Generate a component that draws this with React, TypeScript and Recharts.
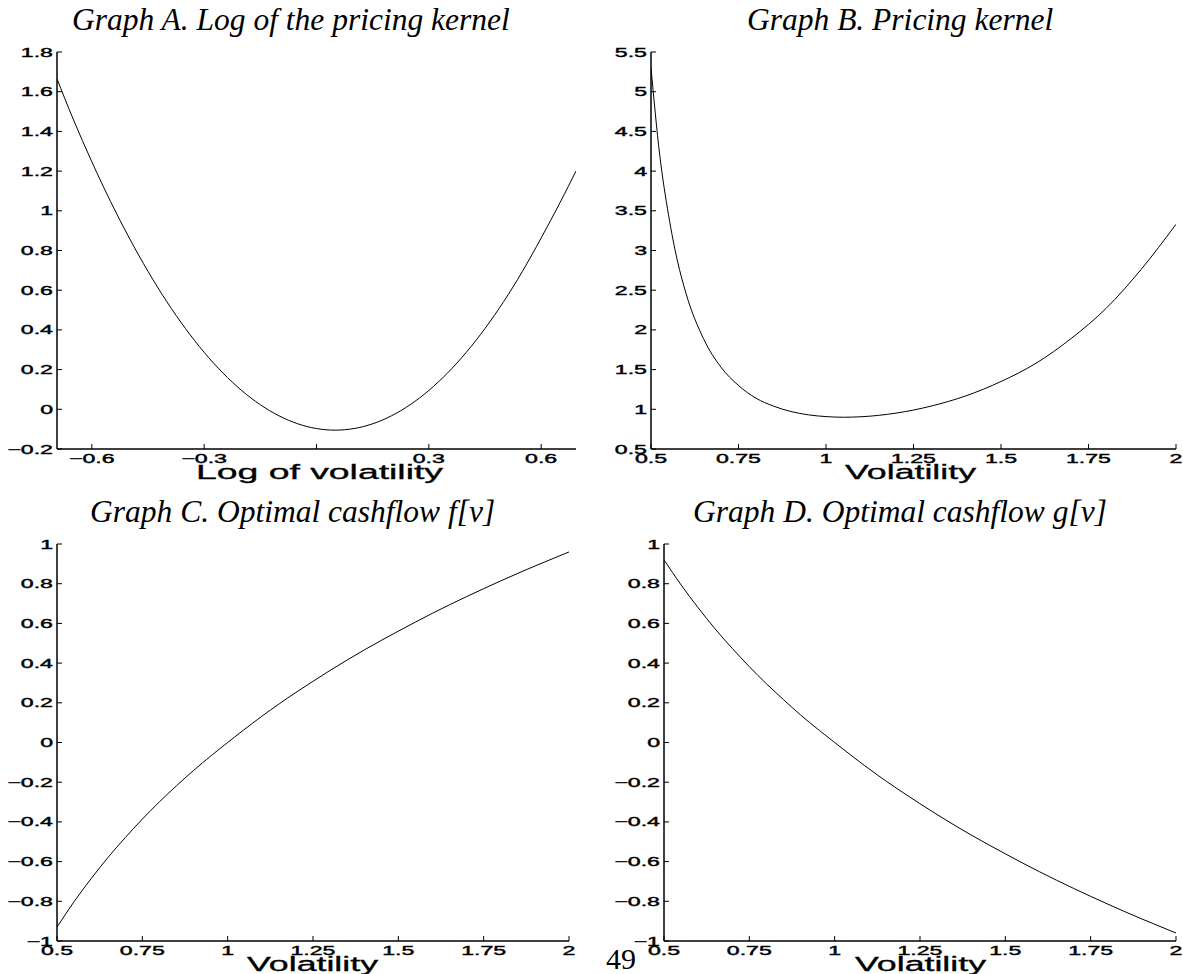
import { LineChart, Line, XAxis, YAxis } from 'recharts'

// Graph A: log of the pricing kernel against log of volatility
const logVolatility = [-0.693, -0.65, -0.6, -0.55, -0.5, -0.45, -0.4, -0.35, -0.3, -0.25, -0.2, -0.15, -0.1, -0.05, 0, 0.05, 0.1, 0.15, 0.2, 0.25, 0.3, 0.35, 0.4, 0.45, 0.5, 0.55, 0.6, 0.65, 0.693]
const logKernel = [1.665, 1.463, 1.247, 1.047, 0.863, 0.695, 0.543, 0.407, 0.287, 0.183, 0.095, 0.023, -0.033, -0.073, -0.097, -0.105, -0.097, -0.073, -0.033, 0.023, 0.095, 0.183, 0.287, 0.407, 0.543, 0.695, 0.863, 1.04, 1.2]

// Graph B: pricing kernel against volatility
const volatilityB = [0.5, 0.525, 0.55, 0.575, 0.6, 0.65, 0.7, 0.75, 0.8, 0.85, 0.9, 0.95, 1, 1.05, 1.1, 1.2, 1.3, 1.4, 1.5, 1.6, 1.7, 1.8, 1.9, 2]
const pricingKernel = [5.3, 4.2, 3.45, 2.88, 2.46, 1.89, 1.53, 1.3, 1.14, 1.04, 0.972, 0.93, 0.908, 0.9, 0.906, 0.952, 1.04, 1.17, 1.35, 1.58, 1.89, 2.27, 2.76, 3.33]

// Graphs C and D: optimal cashflows
const volatilityCD = [0.5, 0.55, 0.6, 0.65, 0.7, 0.75, 0.8, 0.85, 0.9, 0.95, 1, 1.1, 1.2, 1.3, 1.4, 1.5, 1.6, 1.7, 1.8, 1.9, 2]
const cashflowF = [-0.93, -0.802, -0.686, -0.578, -0.479, -0.386, -0.299, -0.218, -0.141, -0.069, 0, 0.132, 0.252, 0.363, 0.466, 0.561, 0.651, 0.735, 0.814, 0.889, 0.96]
const cashflowG = [0.92, 0.794, 0.679, 0.572, 0.474, 0.382, 0.296, 0.216, 0.139, 0.068, 0, -0.132, -0.252, -0.363, -0.466, -0.561, -0.651, -0.735, -0.814, -0.889, -0.96]

// tick values
const ticksLogVol = [-0.6, -0.3, 0, 0.3, 0.6]
const ticksLogKernel = [-0.2, 0, 0.2, 0.4, 0.6, 0.8, 1, 1.2, 1.4, 1.6, 1.8]
const ticksVol = [0.5, 0.75, 1, 1.25, 1.5, 1.75, 2]
const ticksKernel = [0.5, 1, 1.5, 2, 2.5, 3, 3.5, 4, 4.5, 5, 5.5]
const ticksCashflow = [-1, -0.8, -0.6, -0.4, -0.2, 0, 0.2, 0.4, 0.6, 0.8, 1]

const SANS = '"Liberation Sans", Arial, Helvetica, sans-serif'
const SERIF = '"Liberation Serif", "Times New Roman", serif'
const TICK = 5
const FS = 12.5
const STRETCH = 1.85

const ADV: Record<string, number> = { '.': 0.278, '\u2212': 0.584 }
const fmt = (v: number) => String(v).replace('-', '\u2212')
const textWidth = (s: string) => {
  let w = 0
  for (const c of s) w += ADV[c] ?? 0.556
  return w * FS * STRETCH
}

const zip = (xs: number[], ys: number[]) => xs.map((x, i) => ({ x, y: ys[i] }))

// stretched Helvetica-like labels, slightly emboldened
const tickText = { fontFamily: SANS, fontSize: FS, fill: '#000', stroke: '#000', strokeWidth: 0.4 }

const makeBottomTick = (skip: number[]) => (p: any) => {
  const s = fmt(p.payload.value)
  return (
    <g>
      <line x1={p.x} x2={p.x} y1={p.y} y2={p.y - TICK} stroke="#000" />
      {!skip.includes(p.payload.value) && (
        <text x={p.x} y={p.y + 14} textAnchor="middle" {...tickText}
          textLength={textWidth(s)} lengthAdjust="spacingAndGlyphs">{s}</text>
      )}
    </g>
  )
}

const leftTick = (p: any) => {
  const s = fmt(p.payload.value)
  return (
    <g>
      <line x1={p.x} x2={p.x + TICK} y1={p.y} y2={p.y} stroke="#000" />
      <text x={p.x - 4} y={p.y + 4.5} textAnchor="end" {...tickText}
        textLength={textWidth(s)} lengthAdjust="spacingAndGlyphs">{s}</text>
    </g>
  )
}

const topTick = (p: any) => <line x1={p.x} x2={p.x} y1={p.y} y2={p.y + TICK} stroke="#000" />
const rightTick = (p: any) => <line x1={p.x} x2={p.x - TICK} y1={p.y} y2={p.y} stroke="#000" />

const frame = { stroke: '#000', strokeWidth: 1.5 }

interface PanelProps {
  plot: [number, number, number, number]
  data: { x: number; y: number }[]
  xDomain: [number, number]
  yDomain: [number, number]
  xTicks: number[]
  yTicks: number[]
  curve: 'natural' | 'monotone'
  skipX?: number[]
}

function Panel({ plot, data, xDomain, yDomain, xTicks, yTicks, curve, skipX = [] }: PanelProps) {
  const [L, T, R, B] = plot
  const ML = 60, MT = 10, MR = 10, MB = 30
  return (
    <div style={{ position: 'absolute', left: L - ML, top: T - MT }}>
      <LineChart width={R - L + ML + MR} height={B - T + MT + MB} data={data}
        margin={{ top: MT, right: MR, bottom: 0, left: 0 }}>
        <XAxis dataKey="x" type="number" domain={xDomain} ticks={xTicks} allowDataOverflow interval={0}
          height={MB} tickSize={0} tickMargin={0} tickLine={false} axisLine={frame} tick={makeBottomTick(skipX)} />
        <XAxis xAxisId="top" orientation="top" dataKey="x" type="number" domain={xDomain} ticks={xTicks}
          allowDataOverflow interval={0} height={0} tickSize={0} tickMargin={0} tickLine={false} axisLine={frame} tick={topTick} />
        <YAxis type="number" domain={yDomain} ticks={yTicks} allowDataOverflow interval={0}
          width={ML} tickSize={0} tickMargin={0} tickLine={false} axisLine={frame} tick={leftTick} />
        <YAxis yAxisId="right" orientation="right" type="number" domain={yDomain} ticks={yTicks}
          allowDataOverflow interval={0} width={0} tickSize={0} tickMargin={0} tickLine={false} axisLine={frame} tick={rightTick} />
        <Line dataKey="y" type={curve} stroke="#000" strokeWidth={1} dot={false} isAnimationActive={false} />
        <Line xAxisId="top" yAxisId="right" dataKey="y" stroke="none" dot={false} isAnimationActive={false} />
      </LineChart>
    </div>
  )
}

const titleStyle = { fontFamily: SERIF, fontStyle: 'italic', fontSize: 31.5, fill: '#000' }
const axisTitle = { fontFamily: SANS, fontSize: 19.5, fill: '#000', stroke: '#000', strokeWidth: 0.3 }

export default function App() {
  return (
    <div style={{ position: 'absolute', left: 0, top: 0, width: 1183, height: 974, background: '#fff' }}>
      <Panel plot={[57, 52, 576, 449]} data={zip(logVolatility, logKernel)} xDomain={[-0.693, 0.693]}
        yDomain={[-0.2, 1.8]} xTicks={ticksLogVol} yTicks={ticksLogKernel} curve="natural" skipX={[0]} />
      <Panel plot={[651, 52, 1176, 449]} data={zip(volatilityB, pricingKernel)} xDomain={[0.5, 2]}
        yDomain={[0.5, 5.5]} xTicks={ticksVol} yTicks={ticksKernel} curve="monotone" />
      <Panel plot={[57, 544, 569, 941]} data={zip(volatilityCD, cashflowF)} xDomain={[0.5, 2]}
        yDomain={[-1, 1]} xTicks={ticksVol} yTicks={ticksCashflow} curve="natural" />
      <Panel plot={[664, 544, 1176, 941]} data={zip(volatilityCD, cashflowG)} xDomain={[0.5, 2]}
        yDomain={[-1, 1]} xTicks={ticksVol} yTicks={ticksCashflow} curve="natural" />

      <svg width={1183} height={974} style={{ position: 'absolute', left: 0, top: 0, pointerEvents: 'none' }}>
        <text x={72} y={30} {...titleStyle}>Graph A. Log of the pricing kernel</text>
        <text x={747} y={30} {...titleStyle}>Graph B. Pricing kernel</text>
        <text x={90} y={522} {...titleStyle}>Graph C. Optimal cashflow f[v]</text>
        <text x={693} y={522} {...titleStyle}>Graph D. Optimal cashflow g[v]</text>

        <text x={196} y={479} {...axisTitle} textLength={247} lengthAdjust="spacingAndGlyphs">Log of volatility</text>
        <text x={845} y={479} {...axisTitle} textLength={131} lengthAdjust="spacingAndGlyphs">Volatility</text>
        <text x={247} y={971} {...axisTitle} textLength={131} lengthAdjust="spacingAndGlyphs">Volatility</text>
        <text x={855} y={971} {...axisTitle} textLength={131} lengthAdjust="spacingAndGlyphs">Volatility</text>

        <text x={606} y={969} fontFamily={SERIF} fontSize={30} fill="#000">49</text>
      </svg>
    </div>
  )
}
